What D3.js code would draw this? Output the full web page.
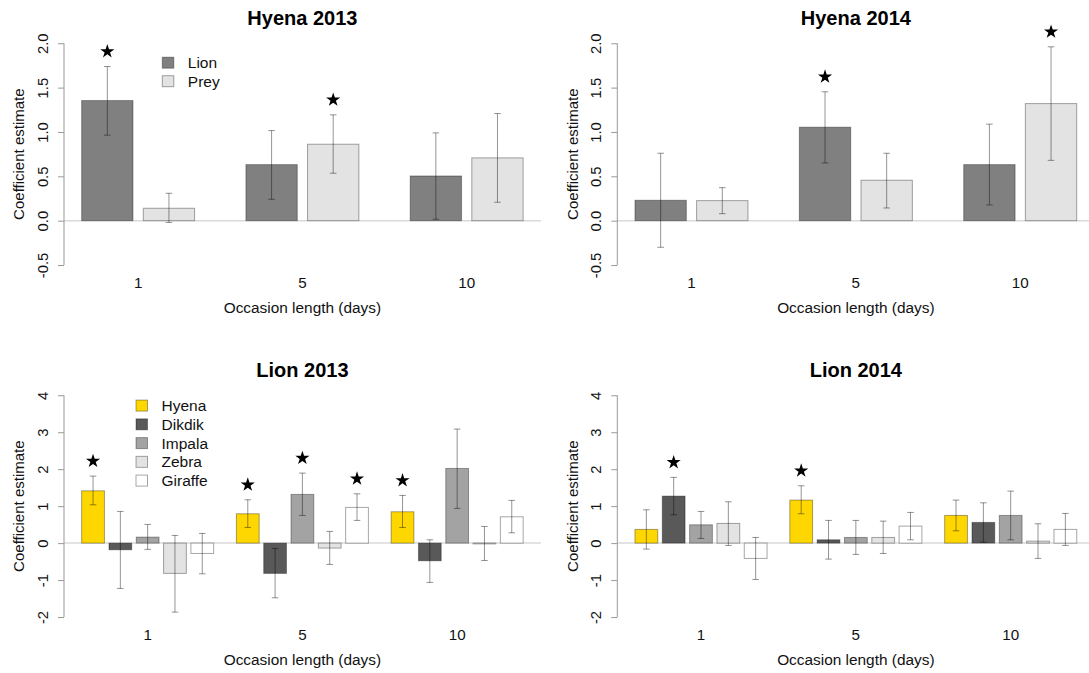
<!DOCTYPE html>
<html>
<head>
<meta charset="utf-8">
<script src="https://cdn.jsdelivr.net/npm/d3@7"></script>
<style>
  html, body { margin: 0; padding: 0; background: #fff; }
  svg { display: block; font-family: "Liberation Sans", Arial, Helvetica, sans-serif; }
</style>
</head>
<body>
<svg id="chart" width="1089" height="673"></svg>
<script>
// ---------------- DATA ----------------
const occasions = ["1", "5", "10"];

const hyenaSeries = ["Lion", "Prey"];
const hyenaColors = ["#808080", "#e3e3e3"];
const lionSeries = ["Hyena", "Dikdik", "Impala", "Zebra", "Giraffe"];
const lionColors = ["#ffd700", "#595959", "#a3a3a3", "#e3e3e3", "#ffffff"];

const hyenaTicks = [-0.5, 0, 0.5, 1.0, 1.5, 2.0];
const hyenaTickLabels = ["-0.5", "0.0", "0.5", "1.0", "1.5", "2.0"];
const lionTicks = [-2, -1, 0, 1, 2, 3, 4];
const lionTickLabels = ["-2", "-1", "0", "1", "2", "3", "4"];

// Hyena 2013 (per occasion: Lion, Prey)
const h13Est  = [[1.354, 0.140], [0.632, 0.862], [0.504, 0.708]];
const h13Lo   = [[0.964, -0.020], [0.241, 0.535], [0.016, 0.208]];
const h13Hi   = [[1.738, 0.309], [1.016, 1.193], [0.990, 1.208]];
const h13Star = [[1, 0], [0, 1], [0, 0]];

// Hyena 2014
const h14Est  = [[0.230, 0.226], [1.054, 0.456], [0.632, 1.320]];
const h14Lo   = [[-0.300, 0.079], [0.651, 0.143], [0.177, 0.680]];
const h14Hi   = [[0.760, 0.372], [1.453, 0.760], [1.088, 1.960]];
const h14Star = [[0, 0], [1, 0], [0, 1]];

// Lion 2013 (per occasion: Hyena, Dikdik, Impala, Zebra, Giraffe)
const l13Est  = [[1.415, -0.180, 0.162, -0.820, -0.280],
                 [0.794, -0.820, 1.318, -0.135, 0.966],
                 [0.848, -0.478, 2.020, -0.010, 0.712]];
const l13Lo   = [[1.037, -1.226, -0.170, -1.867, -0.830],
                 [0.424, -1.480, 0.749, -0.577, 0.614],
                 [0.424, -1.064, 0.939, -0.470, 0.279]];
const l13Hi   = [[1.813, 0.857, 0.506, 0.208, 0.262],
                 [1.172, -0.144, 1.894, 0.316, 1.334],
                 [1.290, 0.090, 3.085, 0.450, 1.155]];
const l13Star = [[1, 0, 0, 0, 0], [1, 0, 1, 0, 1], [1, 0, 0, 0, 0]];

// Lion 2014
const l14Est  = [[0.371, 1.272, 0.495, 0.533, -0.414],
                 [1.164, 0.090, 0.153, 0.153, 0.460],
                 [0.749, 0.560, 0.749, 0.054, 0.371]];
const l14Lo   = [[-0.162, 0.766, 0.127, -0.063, -0.983],
                 [0.794, -0.433, -0.306, -0.280, 0.090],
                 [0.333, 0.027, 0.090, -0.414, -0.063]];
const l14Hi   = [[0.901, 1.778, 0.857, 1.118, 0.153],
                 [1.551, 0.614, 0.614, 0.595, 0.830],
                 [1.164, 1.090, 1.407, 0.523, 0.803]];
const l14Star = [[0, 1, 0, 0, 0], [1, 0, 0, 0, 0], [0, 0, 0, 0, 0]];

// ---------------- LAYOUT ----------------
const cols = [[64.0, 540.8], [617.3, 1094.4]];
const rows = [[34.4, 273.9], [386.4, 625.9]];

const panels = [
  { title: "Hyena 2013", col: 0, row: 0, series: hyenaSeries, colors: hyenaColors,
    ticks: hyenaTicks, tickLabels: hyenaTickLabels, est: h13Est, lo: h13Lo, hi: h13Hi, star: h13Star,
    legend: { dx: 98.3, dy: 28.4, step: 18.5 } },
  { title: "Hyena 2014", col: 1, row: 0, series: hyenaSeries, colors: hyenaColors,
    ticks: hyenaTicks, tickLabels: hyenaTickLabels, est: h14Est, lo: h14Lo, hi: h14Hi, star: h14Star },
  { title: "Lion 2013", col: 0, row: 1, series: lionSeries, colors: lionColors,
    ticks: lionTicks, tickLabels: lionTickLabels, est: l13Est, lo: l13Lo, hi: l13Hi, star: l13Star,
    legend: { dx: 72.0, dy: 19.3, step: 18.75 } },
  { title: "Lion 2014", col: 1, row: 1, series: lionSeries, colors: lionColors,
    ticks: lionTicks, tickLabels: lionTickLabels, est: l14Est, lo: l14Lo, hi: l14Hi, star: l14Star }
];

const svg = d3.select("#chart");
svg.append("rect").attr("width", 1089).attr("height", 673).attr("fill", "#fff");

const textColor = "#111";
const axisColor = "#999999";
const barStroke = "rgba(0,0,0,0.35)";

panels.forEach(p => {
  const [x0, x1] = cols[p.col];
  const [y0, y1] = rows[p.row];
  const n = p.series.length;
  const within = 0.2, between = 1;
  const groupW = n + (n - 1) * within;

  // R-style bar positions
  const bars = [];
  occasions.forEach((occ, g) => {
    const gStart = between + g * (groupW + between);
    p.series.forEach((s, i) => {
      const left = gStart + i * (1 + within);
      bars.push({ g, i, left, right: left + 1, mid: left + 0.5,
        est: p.est[g][i], lo: p.lo[g][i], hi: p.hi[g][i], star: p.star[g][i], color: p.colors[i] });
    });
  });
  const xMin = d3.min(bars, d => d.left), xMax = d3.max(bars, d => d.right);
  const xPad = 0.04 * (xMax - xMin);
  const x = d3.scaleLinear().domain([xMin - xPad, xMax + xPad]).range([x0, x1]);

  const tMin = d3.min(p.ticks), tMax = d3.max(p.ticks);
  const yPad = 0.04 * (tMax - tMin);
  const y = d3.scaleLinear().domain([tMin - yPad, tMax + yPad]).range([y1, y0]);

  const gP = svg.append("g");

  // zero line
  gP.append("line")
    .attr("x1", x0).attr("x2", x1).attr("y1", y(0)).attr("y2", y(0))
    .attr("stroke", "#dadada").attr("stroke-width", 1.5);

  // bars
  gP.selectAll("rect.bar").data(bars).enter().append("rect")
    .attr("class", "bar")
    .attr("x", d => x(d.left))
    .attr("width", d => x(d.right) - x(d.left))
    .attr("y", d => y(Math.max(0, d.est)))
    .attr("height", d => Math.max(0.8, Math.abs(y(d.est) - y(0))))
    .attr("fill", d => d.color)
    .attr("stroke", barStroke).attr("stroke-width", 1);

  // error bars
  const eb = gP.selectAll("g.err").data(bars).enter().append("g").attr("class", "err")
    .attr("stroke", "#000").attr("stroke-opacity", 0.42).attr("stroke-width", 1);
  eb.append("line").attr("x1", d => x(d.mid)).attr("x2", d => x(d.mid))
    .attr("y1", d => y(d.lo)).attr("y2", d => y(d.hi));
  eb.append("line").attr("x1", d => x(d.mid) - 3.3).attr("x2", d => x(d.mid) + 3.3)
    .attr("y1", d => y(d.lo)).attr("y2", d => y(d.lo));
  eb.append("line").attr("x1", d => x(d.mid) - 3.3).attr("x2", d => x(d.mid) + 3.3)
    .attr("y1", d => y(d.hi)).attr("y2", d => y(d.hi));

  // stars
  const starPath = d3.symbol().type(d3.symbolStar).size(62)();
  gP.selectAll("path.star").data(bars.filter(d => d.star)).enter().append("path")
    .attr("class", "star")
    .attr("d", starPath)
    .attr("transform", d => `translate(${x(d.mid)},${y(d.hi) - 15})`)
    .attr("fill", "#000");

  // y axis
  const yAxis = d3.axisLeft(y).tickValues(p.ticks)
    .tickFormat((d, i) => p.tickLabels[i]).tickSize(6).tickSizeOuter(0);
  const ga = gP.append("g").attr("transform", `translate(${x0},0)`).call(yAxis);
  ga.select(".domain").remove();
  ga.append("line").attr("x1", 0).attr("x2", 0)
    .attr("y1", y(tMin)).attr("y2", y(tMax)).attr("stroke", axisColor);
  ga.selectAll(".tick line").attr("stroke", axisColor);
  ga.selectAll(".tick text")
    .attr("x", null).attr("dy", "0.35em")
    .attr("transform", "translate(-21.5,0) rotate(-90)")
    .attr("text-anchor", "middle")
    .attr("font-size", "14.8px").attr("fill", textColor)
    .attr("font-family", "\"Liberation Sans\", Arial, Helvetica, sans-serif");

  // x tick labels (no axis line, R barplot style)
  const groupMid = occasions.map((o, g) => {
    const gb = bars.filter(b => b.g === g);
    return (x(gb[0].left) + x(gb[gb.length - 1].right)) / 2;
  });
  gP.selectAll("text.xt").data(occasions).enter().append("text")
    .attr("class", "xt")
    .attr("x", (d, g) => groupMid[g]).attr("y", y1 + 13.8)
    .attr("text-anchor", "middle").attr("font-size", "15.2px").attr("fill", textColor)
    .text(d => d);

  // axis titles
  gP.append("text")
    .attr("x", (x0 + x1) / 2).attr("y", y1 + 38.8)
    .attr("text-anchor", "middle").attr("font-size", "15.4px").attr("fill", textColor)
    .text("Occasion length (days)");
  gP.append("text")
    .attr("transform", `translate(${x0 - 45},${(y0 + y1) / 2}) rotate(-90)`)
    .attr("dy", "0.35em")
    .attr("text-anchor", "middle").attr("font-size", "15px").attr("fill", textColor)
    .text("Coefficient estimate");

  // title
  gP.append("text")
    .attr("x", (x0 + x1) / 2).attr("y", y0 - 9.4)
    .attr("text-anchor", "middle").attr("font-size", "20px").attr("font-weight", "bold")
    .attr("fill", "#000")
    .text(p.title);

  // legend
  if (p.legend) {
    const L = p.legend;
    const lg = gP.append("g");
    p.series.forEach((s, i) => {
      const cy = y0 + L.dy + i * L.step;
      lg.append("rect")
        .attr("x", x0 + L.dx).attr("y", cy - 5.6).attr("width", 11.5).attr("height", 11)
        .attr("fill", p.colors[i]).attr("stroke", barStroke).attr("stroke-width", 1);
      lg.append("text")
        .attr("x", x0 + L.dx + 25.5).attr("y", cy + 5.5)
        .attr("font-size", "15.5px").attr("fill", textColor)
        .text(s);
    });
  }
});
</script>
</body>
</html>
